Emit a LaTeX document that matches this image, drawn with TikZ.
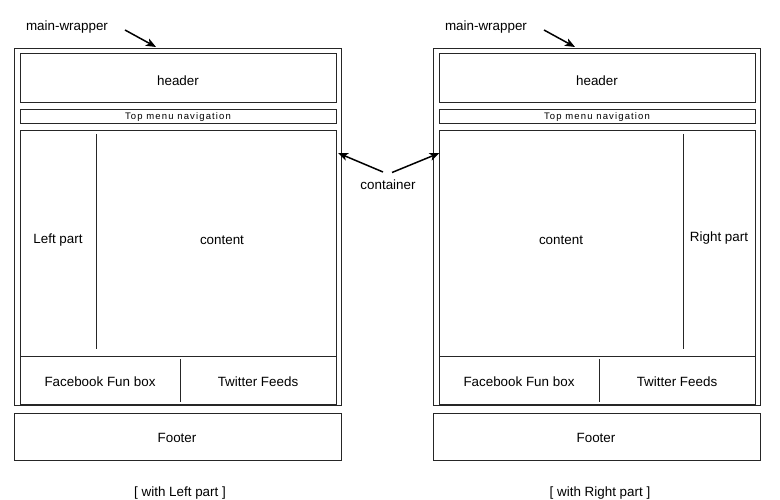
\documentclass[tikz,border=0pt]{standalone}
\usepackage{fontspec}
\setmainfont{Liberation Sans}
\newfontfamily\menufont[LetterSpace=12]{Liberation Sans}
\usetikzlibrary{arrows.meta,calc}
\tikzset{
  box/.style={draw=black!85, line width=1pt, rectangle, inner sep=0pt, outer sep=0pt, anchor=north west},
  lbl/.style={font=\fontsize{13.4}{15}\selectfont, inner sep=0pt, yshift=-1.5pt},
  menulbl/.style={font=\menufont\fontsize{9.5}{11}\selectfont, inner sep=0pt, yshift=-0.5pt},
  divider/.style={draw=black!85, line width=1pt},
  pointer/.style={draw=black, line width=1.5pt, -{Stealth[length=10pt,width=8pt,inset=2.5pt]}}
}
\begin{document}
\begin{tikzpicture}[x=1pt,y=-1pt]
\useasboundingbox[fill=white] (0,0) rectangle (780,500);
% ---------- left panel ----------
\node[box, minimum width=327, minimum height=356] (Lwrap) at (14,49) {};
\node[box, minimum width=316, minimum height=49] (Lhead) at (20,54) {};
\node[lbl] (Lheadt) at (178,79) {header};
\node[box, minimum width=316, minimum height=14] (Lmenu) at (20,110) {};
\node[menulbl] (Lmenut) at (178,117) {Top menu navigation};
\node[box, minimum width=316, minimum height=273] (Lcont) at (20,131) {};
\node[box, minimum width=316, minimum height=48] (Lfb) at (20,356) {};
\coordinate (Lfbtop) at (180,359);
\coordinate (Lfbbot) at (180,402);
\draw[divider] (Lfbtop) -- (Lfbbot);
\coordinate (Lsidetop) at (96.5,134);
\coordinate (Lsidebot) at (96.5,349);
\draw[divider] (Lsidetop) -- (Lsidebot);
\node[lbl] (Lleft) at (58,239) {Left part};
\node[lbl] (Lcontent) at (222,239) {content};
\node[lbl] (Lfbt) at (100,380) {Facebook Fun box};
\node[lbl] (Ltwt) at (258,380) {Twitter Feeds};
\node[box, minimum width=327, minimum height=47] (Lfoot) at (14,413) {};
\node[lbl] (Lfoott) at (177,436) {Footer};
\node[lbl] (Lcap) at (180,492) {[ with Left part ]};
\node[lbl] (Lmw) at (67,26) {main-wrapper};
\coordinate (Lmwfrom) at (125,30);
\coordinate (Lmwto) at (156,47);
\draw[pointer] (Lmwfrom) -- (Lmwto);
% ---------- right panel ----------
\begin{scope}[xshift=419pt]
\node[box, minimum width=327, minimum height=356] (Rwrap) at (14,49) {};
\node[box, minimum width=316, minimum height=49] (Rhead) at (20,54) {};
\node[lbl] (Rheadt) at (178,79) {header};
\node[box, minimum width=316, minimum height=14] (Rmenu) at (20,110) {};
\node[menulbl] (Rmenut) at (178,117) {Top menu navigation};
\node[box, minimum width=316, minimum height=273] (Rcont) at (20,131) {};
\node[box, minimum width=316, minimum height=48] (Rfb) at (20,356) {};
\coordinate (Rfbtop) at (180,359);
\coordinate (Rfbbot) at (180,402);
\draw[divider] (Rfbtop) -- (Rfbbot);
\coordinate (Rsidetop) at (264,134);
\coordinate (Rsidebot) at (264,349);
\draw[divider] (Rsidetop) -- (Rsidebot);
\node[lbl] (Rright) at (300,237) {Right part};
\node[lbl] (Rcontent) at (142,239) {content};
\node[lbl] (Rfbt) at (100,380) {Facebook Fun box};
\node[lbl] (Rtwt) at (258,380) {Twitter Feeds};
\node[box, minimum width=327, minimum height=47] (Rfoot) at (14,413) {};
\node[lbl] (Rfoott) at (177,436) {Footer};
\node[lbl] (Rcap) at (181,492) {[ with Right part ]};
\node[lbl] (Rmw) at (67,26) {main-wrapper};
\coordinate (Rmwfrom) at (125,30);
\coordinate (Rmwto) at (156,47);
\draw[pointer] (Rmwfrom) -- (Rmwto);
\end{scope}
% ---------- container label ----------
\node[lbl] (ctr) at (388,183) {container};
\coordinate (ctrL) at (383,172);
\coordinate (ctrR) at (392,172.5);
\draw[pointer] (ctrL) -- ($(Lcont.north east)+(2,22)$);
\draw[pointer] (ctrR) -- ($(Rcont.north west)+(0.5,22)$);
\end{tikzpicture}
\end{document}
